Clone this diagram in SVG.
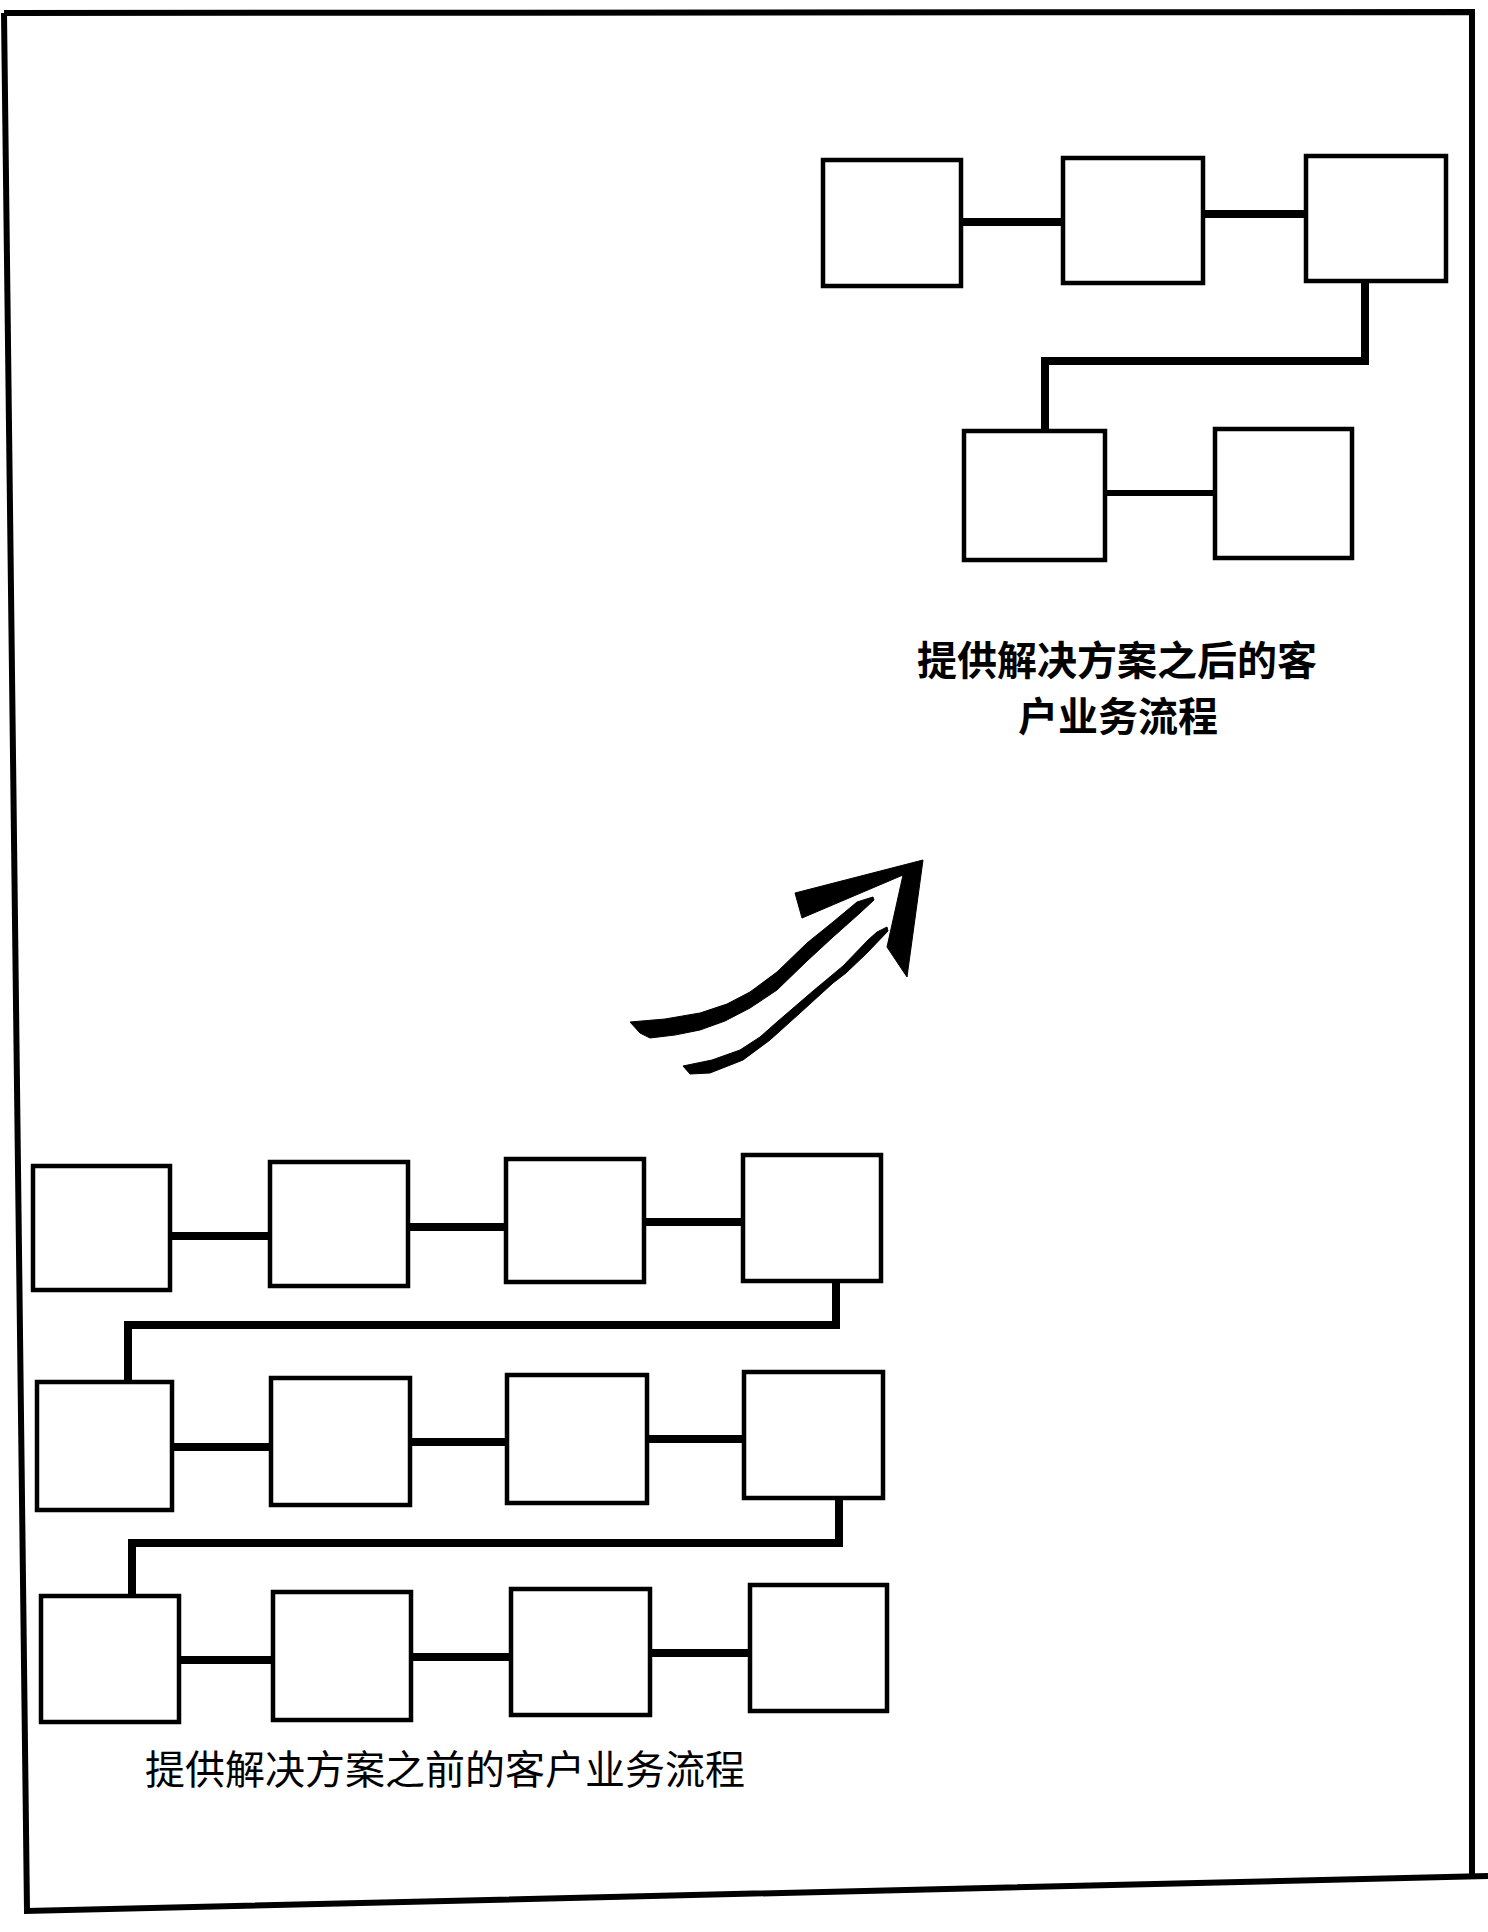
<svg xmlns="http://www.w3.org/2000/svg" width="1488" height="1932" viewBox="0 0 1488 1932">
<style>
.box{fill:#fff;stroke:#000;stroke-width:4.5}
.con{fill:none;stroke:#000;stroke-width:8;stroke-linejoin:miter}
.thin{stroke-width:6}
.frame{fill:none;stroke:#000;stroke-width:6}
.lbl{font-family:"Noto Sans CJK SC","Noto Sans",sans-serif;font-size:40px;fill:#000}
</style>
<rect width="1488" height="1932" fill="#fff"/>
<g id="frame">
<path class="frame" d="M4,13 L1472,12 L1472,1878"/>
<path class="frame" d="M4,13 L27,1911 L1488,1876"/>
</g>
<g id="connectors">
<path class="con" d="M961,222 L1063,222"/>
<path class="con" d="M1203,214 L1306,214"/>
<path class="con" d="M1365,281 L1365,361 L1045,361 L1045,431"/>
<path class="con thin" d="M1105,493 L1215,493"/>
<path class="con" d="M170,1236 L270,1236"/>
<path class="con" d="M408,1227 L506,1227"/>
<path class="con" d="M644,1222 L743,1222"/>
<path class="con" d="M836,1281 L836,1325 L128,1325 L128,1382"/>
<path class="con" d="M172,1447 L271,1447"/>
<path class="con" d="M410,1442 L507,1442"/>
<path class="con" d="M647,1439 L744,1439"/>
<path class="con" d="M839,1498 L839,1543 L132,1543 L132,1596"/>
<path class="con" d="M179,1660 L273,1660"/>
<path class="con" d="M411,1657 L511,1657"/>
<path class="con" d="M650,1653 L750,1653"/>
</g>
<g id="after-1"><rect class="box" x="823" y="160" width="138" height="126"/></g>
<g id="after-2"><rect class="box" x="1063" y="158" width="140" height="125"/></g>
<g id="after-3"><rect class="box" x="1306" y="156" width="140" height="125"/></g>
<g id="after-4"><rect class="box" x="964" y="431" width="141" height="129"/></g>
<g id="after-5"><rect class="box" x="1215" y="429" width="137" height="129"/></g>
<g id="before-1"><rect class="box" x="33" y="1166" width="137" height="124"/></g>
<g id="before-2"><rect class="box" x="270" y="1162" width="138" height="124"/></g>
<g id="before-3"><rect class="box" x="506" y="1159" width="138" height="123"/></g>
<g id="before-4"><rect class="box" x="743" y="1155" width="138" height="126"/></g>
<g id="before-5"><rect class="box" x="37" y="1382" width="135" height="128"/></g>
<g id="before-6"><rect class="box" x="271" y="1378" width="139" height="127"/></g>
<g id="before-7"><rect class="box" x="507" y="1375" width="140" height="128"/></g>
<g id="before-8"><rect class="box" x="744" y="1372" width="139" height="126"/></g>
<g id="before-9"><rect class="box" x="41" y="1596" width="138" height="126"/></g>
<g id="before-10"><rect class="box" x="273" y="1592" width="138" height="128"/></g>
<g id="before-11"><rect class="box" x="511" y="1589" width="139" height="126"/></g>
<g id="before-12"><rect class="box" x="750" y="1585" width="137" height="126"/></g>
<g id="arrow" fill="#000" stroke="#000" stroke-width="1" stroke-linejoin="round">
<path d="M630,1022 L665,1019 L700,1013 L727,1004 L750,992 L777,972 L807,943 L833,922 L857,902 L873,897 L874,900 L860,913 L833,937 L807,961 L777,990 L750,1008 L725,1021 L700,1030 L675,1035 L650,1038 L640,1033 Z"/>
<path d="M683,1066 L712,1060 L740,1050 L760,1037 L777,1022 L813,991 L843,966 L868,940 L877,932 L887,927 L888,931 L867,953 L846,973 L833,983 L800,1013 L770,1040 L743,1060 L710,1073 L690,1074 Z"/>
<path d="M795,893 L923,860 L907,977 L887,947 L903,875 L802,918 Z"/>
</g>
<g id="label-after">
<text class="lbl" x="1117" y="675" text-anchor="middle" font-weight="700">提供解决方案之后的客</text>
<text class="lbl" x="1118" y="731" text-anchor="middle" font-weight="700">户业务流程</text>
</g>
<g id="label-before">
<text class="lbl" x="145" y="1784">提供解决方案之前的客户业务流程</text>
</g>
</svg>
